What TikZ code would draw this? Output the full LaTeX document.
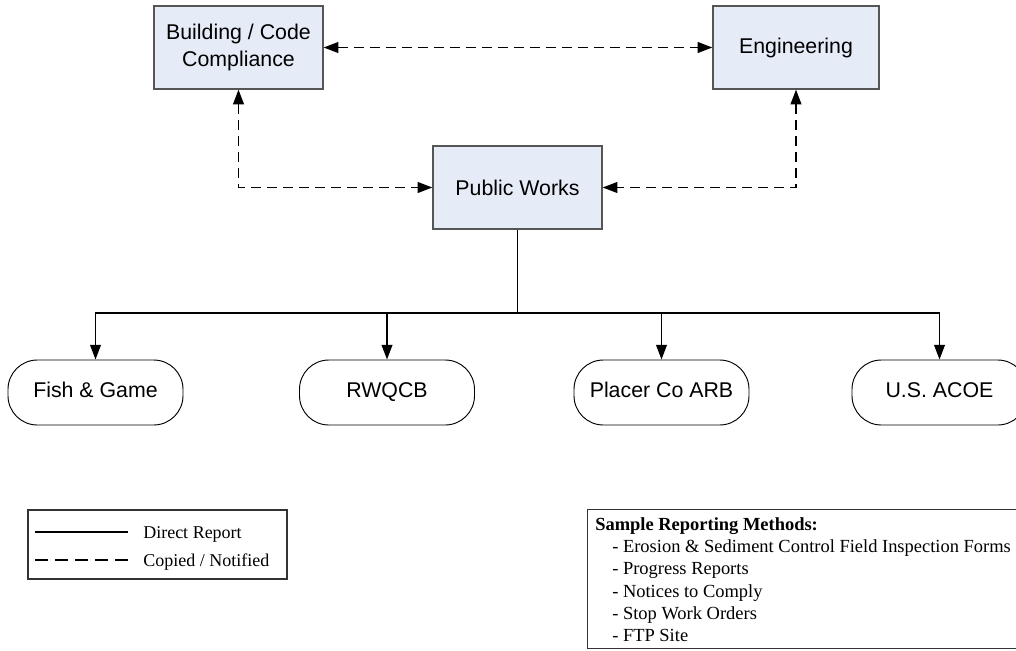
\documentclass[tikz,border=0pt]{standalone}
\usepackage{fontspec}
\setmainfont{Liberation Serif}
\newfontfamily\arialf{Liberation Sans}
\usetikzlibrary{arrows.meta}
\definecolor{boxfill}{HTML}{E6ECF7}
\definecolor{boxline}{HTML}{555555}
\tikzset{
  orgbox/.style={draw=boxline, line width=0.9pt, fill=boxfill, inner sep=0pt,
    align=center, font=\arialf\fontsize{16}{20.25}\selectfont},
  termbox/.style={draw=black, line width=0.7pt, fill=white, inner sep=0pt,
    minimum width=131.25pt, minimum height=48.75pt, rounded corners=22pt,
    text height=11.5pt, text depth=3.5pt,
    font=\arialf\fontsize{16}{20}\selectfont},
  tip/.style={-{Triangle[length=11pt,width=8pt]}},
  bitip/.style={{Triangle[length=11pt,width=8pt]}-{Triangle[length=11pt,width=8pt]}},
  copyline/.style={line width=1.3pt, dash pattern=on 7.5pt off 4.5pt},
  directline/.style={line width=1.3pt},
  serift/.style={font=\fontsize{13.5}{16}\selectfont, inner sep=0pt, anchor=base west},
  samplet/.style={font=\fontsize{13.85}{16}\selectfont, inner sep=0pt, anchor=base west},
  plainbox/.style={draw=black!80, line width=0.8pt, fill=none, inner sep=0pt}
}
\begin{document}
\begin{tikzpicture}[x=0.75pt, y=-0.75pt]
\useasboundingbox (0,0) rectangle (1016,650);
\clip (0,0) rectangle (1016,650);

% boxes
\node[orgbox, minimum width=126.75pt, minimum height=62.25pt] (bcc) at (238.5,47.5) {Building / Code\\Compliance};
\node[orgbox, minimum width=124.5pt, minimum height=62.25pt] (eng) at (796,47.5) {Engineering};
\node[orgbox, minimum width=126.75pt, minimum height=62.25pt] (pw) at (517.5,187.5) {Public Works};

% terminators
\node[termbox] (fish) at (95.5,392.5) {Fish \& Game};
\node[termbox] (rwq) at (387,392.5) {RWQCB};
\node[termbox] (arb) at (661.5,392.5) {Placer Co ARB};
\node[termbox] (acoe) at (939.5,392.5) {U.S. ACOE};

% dashed connectors
\draw[copyline, bitip] (bcc.east) -- (eng.west);
\draw[copyline, bitip] (bcc.south) |- (pw.west);
\draw[copyline, bitip] (eng.south) |- (pw.east);

% direct report tree
\coordinate (bus) at (517.5,313);
\draw[directline] (pw.south) -- (bus);
\draw[directline, tip] (bus) -| (fish.north);
\draw[directline, tip] (bus) -| (rwq.north);
\draw[directline, tip] (bus) -| (arb.north);
\draw[directline, tip] (bus) -| (acoe.north);

% legend
\node[plainbox, minimum width=194.25pt, minimum height=51.75pt] (legend) at (157.5,544.5) {};
\coordinate (l1a) at (35,532);
\coordinate (l1b) at (128,532);
\coordinate (l2a) at (35,560);
\coordinate (l2b) at (128,560);
\draw[line width=0.9pt] (l1a) -- (l1b);
\draw[line width=0.9pt, dash pattern=on 9.75pt off 5.25pt] (l2a) -- (l2b);
\node[serift] (ldr) at (143,538) {Direct Report};
\node[serift] (lcn) at (143,566) {Copied / Notified};

% sample reporting methods
\node[plainbox, anchor=north west, minimum width=345pt, minimum height=104.25pt] (sample) at (587,509) {};
\node[samplet, font=\bfseries\fontsize{13.85}{16}\selectfont] (s0) at (595,530) {Sample Reporting Methods:};
\node[samplet] (s1) at (612,552.5) {- Erosion \& Sediment Control Field Inspection Forms};
\node[samplet] (s2) at (612,574.8) {- Progress Reports};
\node[samplet] (s3) at (612,597) {- Notices to Comply};
\node[samplet] (s4) at (612,619.3) {- Stop Work Orders};
\node[samplet] (s5) at (612,641.5) {- FTP Site};
\end{tikzpicture}
\end{document}
